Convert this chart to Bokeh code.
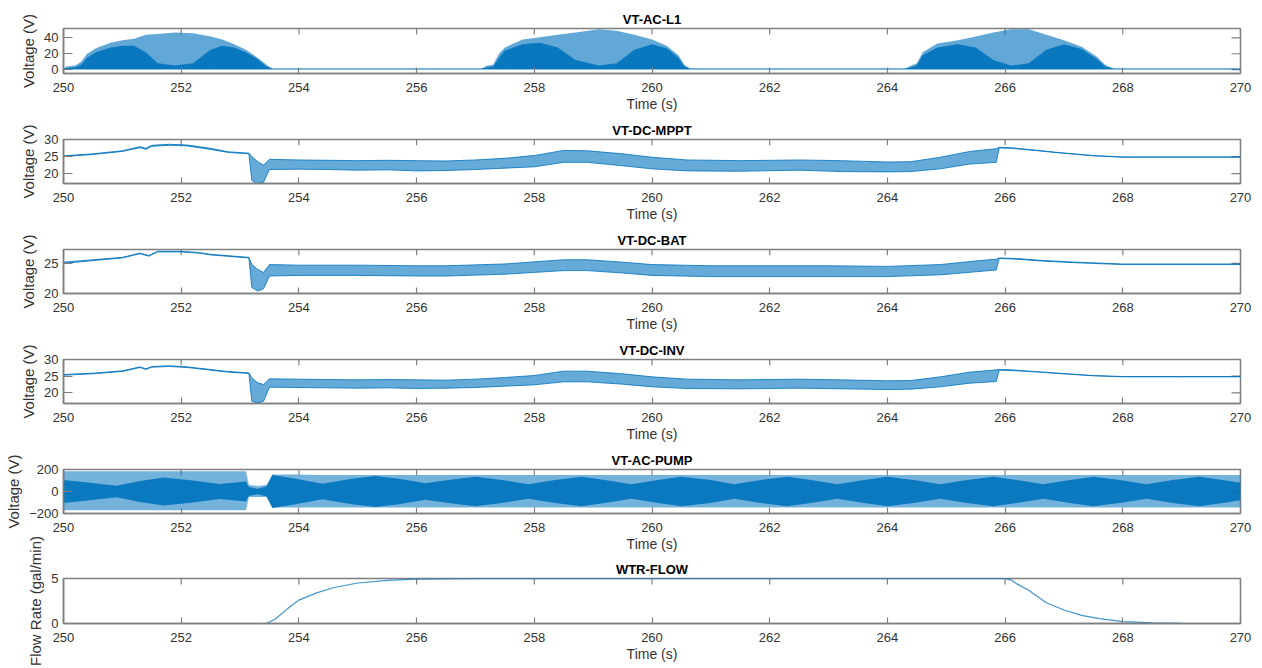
from bokeh.plotting import figure
from bokeh.models import FixedTicker, Range1d
from bokeh.layouts import column
from bokeh.embed import file_html
from bokeh.resources import INLINE

BLUE = "#0072BD"
X_TICKS = [250, 252, 254, 256, 258, 260, 262, 264, 266, 268, 270]

# ---- VT-AC-L1 : burst envelopes (peak envelope and top of dense region) ----
L1_t = [250.0, 250.05, 250.2, 250.3, 250.4, 250.55, 250.8, 251.0, 251.2, 251.4, 251.6, 251.9,
        252.2, 252.5, 252.7, 252.9, 253.1, 253.3, 253.45, 253.55,
        257.1, 257.2, 257.3, 257.4, 257.5, 257.8, 258.1, 258.4, 258.7, 259.1, 259.4, 259.7,
        260.0, 260.25, 260.45, 260.55, 260.65,
        264.3, 264.4, 264.5, 264.6, 264.85, 265.2, 265.5, 265.8, 266.1, 266.4, 266.7,
        267.0, 267.3, 267.55, 267.7, 267.85, 270.0]
L1_peak = [1, 4, 5, 10, 20, 27, 34, 37, 39, 44, 45, 47,
           46, 42, 38, 32, 25, 15, 6, 1,
           1, 5, 6, 20, 28, 38, 41, 44, 47, 51, 49, 44,
           38, 30, 18, 6, 1,
           1, 5, 8, 22, 33, 37, 42, 47, 51, 51, 44,
           37, 29, 17, 6, 1, 1]
L1_dense = [1, 2, 3, 6, 15, 22, 28, 30, 30, 22, 8, 5,
            8, 25, 30, 28, 22, 13, 4, 1,
            1, 3, 4, 15, 24, 32, 34, 28, 12, 5, 8, 25,
            32, 27, 15, 4, 1,
            1, 3, 5, 18, 28, 32, 28, 12, 5, 8, 25,
            32, 26, 14, 4, 1, 1]
L1_base = [0.6] * len(L1_t)

# ---- VT-DC-MPPT : upper / lower envelope ----
MPPT_t = [250.0, 250.5, 251.0, 251.3, 251.4, 251.5, 251.8, 252.1, 252.5, 252.8, 253.15,
          253.2, 253.3, 253.4, 253.5, 254.0, 254.5, 255.0, 255.5, 256.0, 256.5, 257.0,
          257.5, 258.0, 258.5, 258.9, 259.5, 260.0, 260.6, 261.5, 262.5, 263.2, 264.0,
          264.4, 264.9, 265.4, 265.85, 265.9, 266.1, 266.5, 266.9, 267.5, 268.0, 269.0, 270.0]
MPPT_hi = [25.2, 25.8, 26.7, 27.9, 27.4, 28.3, 28.6, 28.4, 27.4, 26.4, 26.0,
           25.0, 23.5, 22.5, 24.2, 24.0, 23.9, 23.8, 23.9, 23.8, 23.7, 24.0,
           24.5, 25.3, 26.8, 26.7, 25.8, 24.8, 24.0, 23.8, 24.0, 23.8, 23.4,
           23.5, 24.8, 26.5, 27.3, 27.7, 27.6, 26.9, 26.2, 25.3, 24.9, 24.9, 24.9]
MPPT_lo = [25.0, 25.6, 26.5, 27.6, 27.1, 28.0, 28.3, 28.1, 27.1, 26.2, 25.8,
           18.0, 17.0, 17.5, 21.2, 21.3, 21.2, 21.0, 21.1, 20.8, 20.9, 21.2,
           21.6, 22.0, 23.3, 23.3, 22.3, 21.4, 20.8, 20.7, 21.0, 20.6, 20.5,
           20.6, 21.4, 22.8, 23.3, 27.5, 27.4, 26.8, 26.1, 25.2, 24.8, 24.8, 24.8]

# ---- VT-DC-BAT ----
BAT_t = [250.0, 251.0, 251.3, 251.45, 251.6, 252.0, 252.3, 252.5, 253.15,
         253.2, 253.3, 253.4, 253.5, 254.0, 255.0, 256.0, 256.5, 257.5, 258.5, 258.9,
         259.5, 260.0, 261.0, 262.0, 263.0, 264.0, 264.9, 265.5, 265.85,
         265.9, 266.2, 266.6, 267.2, 268.0, 269.0, 270.0]
BAT_hi = [25.2, 26.0, 26.7, 26.3, 27.0, 27.0, 26.8, 26.5, 26.0,
          24.8, 24.0, 23.5, 24.8, 24.7, 24.7, 24.6, 24.6, 24.9, 25.6, 25.6,
          25.2, 24.8, 24.6, 24.6, 24.6, 24.5, 24.8, 25.4, 25.7,
          25.9, 25.8, 25.5, 25.2, 24.9, 24.9, 24.9]
BAT_lo = [25.0, 25.9, 26.6, 26.2, 26.9, 26.9, 26.7, 26.4, 25.9,
          21.0, 20.4, 20.8, 22.9, 23.0, 23.0, 22.9, 22.9, 23.2, 23.8, 23.8,
          23.4, 23.0, 22.8, 22.8, 22.8, 22.8, 23.1, 23.6, 23.9,
          25.8, 25.7, 25.4, 25.1, 24.8, 24.8, 24.8]

# ---- VT-DC-INV ----
INV_t = MPPT_t
INV_hi = [25.5, 25.9, 26.6, 27.8, 27.2, 27.9, 28.1, 27.8, 27.0, 26.4, 26.0,
          24.5, 23.0, 22.5, 24.2, 24.1, 24.0, 23.9, 24.0, 23.9, 23.8, 24.1,
          24.6, 25.2, 26.5, 26.5, 25.7, 24.8, 24.1, 23.9, 24.1, 23.9, 23.6,
          23.7, 24.8, 26.2, 26.9, 27.0, 26.9, 26.4, 25.9, 25.2, 24.9, 24.9, 24.9]
INV_lo = [25.3, 25.7, 26.4, 27.6, 27.0, 27.7, 27.9, 27.6, 26.8, 26.2, 25.8,
          17.5, 16.9, 17.5, 21.7, 21.6, 21.5, 21.4, 21.5, 21.3, 21.4, 21.6,
          22.0, 22.4, 23.3, 23.3, 22.6, 21.8, 21.3, 21.2, 21.4, 21.2, 21.0,
          21.1, 21.8, 22.9, 23.4, 26.8, 26.7, 26.3, 25.8, 25.1, 24.8, 24.8, 24.8]

# ---- VT-AC-PUMP : outer envelope and dense inner envelope ----
PUMP_t = [250.0, 250.45, 250.9, 251.3, 251.7, 252.2, 252.65, 253.1, 253.15, 253.3,
          253.45, 253.55, 253.9, 254.4, 254.9, 255.3, 255.7, 256.15, 256.6, 257.0,
          257.45, 257.9, 258.35, 258.8, 259.2, 259.65, 260.1, 260.5, 261.0, 261.4,
          261.85, 262.3, 262.7, 263.15, 263.6, 264.0, 264.45, 264.9, 265.35, 265.8,
          266.2, 266.65, 267.1, 267.5, 267.95, 268.4, 268.85, 269.3, 269.7, 270.0]
PUMP_out_hi = [185, 185, 185, 185, 185, 185, 185, 185, 60, 50,
               60, 155, 155, 150, 150, 150, 150, 150, 150, 150,
               150, 150, 150, 150, 150, 150, 150, 150, 150, 150,
               150, 150, 150, 150, 150, 150, 150, 150, 150, 150,
               150, 150, 150, 150, 150, 150, 150, 150, 150, 150]
PUMP_out_lo = [-170, -170, -170, -170, -170, -170, -170, -170, -50, -50,
               -50, -145, -145, -145, -145, -145, -145, -145, -145, -145,
               -145, -145, -145, -145, -145, -145, -145, -145, -145, -145,
               -145, -145, -145, -145, -145, -145, -145, -145, -145, -145,
               -145, -145, -145, -145, -145, -145, -145, -145, -145, -145]
PUMP_in_hi = [104, 80, 53, 95, 127, 100, 68, 90, 40, 25,
              45, 150, 120, 70, 115, 142, 115, 75, 110, 135,
              105, 65, 105, 135, 105, 65, 105, 135, 105, 65,
              105, 135, 105, 65, 105, 135, 105, 65, 105, 135,
              105, 65, 105, 135, 105, 65, 105, 135, 105, 80]
PUMP_in_lo = [-v for v in PUMP_in_hi]

# ---- WTR-FLOW ----
FLOW_t = [250.0, 253.45, 253.6, 253.8, 254.0, 254.3, 254.6, 255.0, 255.5, 256.0, 257.0,
          266.0, 266.1, 266.2, 266.4, 266.7, 267.0, 267.3, 267.6, 268.0, 268.5, 269.0, 270.0]
FLOW_v = [0.0, 0.0, 0.5, 1.6, 2.6, 3.4, 4.0, 4.5, 4.8, 4.92, 4.98,
          4.98, 4.85, 4.4, 3.7, 2.3, 1.5, 0.9, 0.55, 0.2, 0.08, 0.03, 0.0]

FONT = "Liberation Sans"
AX = "#7f7f7f"
TXT = "#333333"
FRAME_H = 45
FRAME_W = 1177


def make_fig(title, ylabel, yr, yticks, top=20, bottom=45, tick_sd=9, lab_sd=1):
    p = figure(width=1254, height=top + FRAME_H + bottom, x_range=Range1d(250, 270),
               y_range=Range1d(*yr), output_backend="svg", toolbar_location=None, tools="",
               min_border_left=63, min_border_right=14, min_border_top=top,
               min_border_bottom=bottom)
    p.title.text = title
    p.title.align = "center"
    p.title.text_font = FONT
    p.title.text_font_size = "13px"
    p.title.text_font_style = "bold"
    p.title.text_color = "#000000"
    p.title.standoff = 4
    p.grid.visible = False
    p.outline_line_color = AX
    p.outline_line_width = 1.5
    p.background_fill_color = "white"
    p.border_fill_color = "white"

    xa = p.xaxis[0]
    xa.ticker = FixedTicker(ticks=X_TICKS)
    xa.axis_label = "Time (s)"
    ya = p.yaxis[0]
    ya.ticker = FixedTicker(ticks=yticks)
    ya.axis_label = ylabel
    for a in (xa, ya):
        a.axis_line_color = AX
        a.axis_line_width = 1.5
        a.major_tick_line_color = AX
        a.major_tick_line_width = 1.2
        a.major_tick_out = 0
        a.minor_tick_line_color = None
        a.major_label_text_font = FONT
        a.major_label_text_font_size = "13px"
        a.major_label_text_color = TXT
        a.axis_label_text_font = FONT
        a.axis_label_text_font_style = "normal"
        a.axis_label_text_color = TXT
    xa.major_tick_in = 6
    ya.major_tick_in = 9
    xa.axis_label_text_font_size = "14px"
    ya.axis_label_text_font_size = "15px"
    ya.major_label_standoff = 5
    ya.axis_label_standoff = 4
    xa.major_label_standoff = tick_sd
    xa.axis_label_standoff = lab_sd

    # mirrored ticks on the top and right edges of the box
    y0, y1 = yr
    dy = (y1 - y0) * 6 / FRAME_H
    p.segment(x0=X_TICKS, y0=[y1] * len(X_TICKS), x1=X_TICKS, y1=[y1 - dy] * len(X_TICKS),
              line_color=AX, line_width=1.2)
    dx = 20 * 9 / FRAME_W
    p.segment(x0=[270] * len(yticks), y0=yticks, x1=[270 - dx] * len(yticks), y1=yticks,
              line_color=AX, line_width=1.2)
    return p


def band(p, t, lo, hi, alpha=0.6):
    p.varea(x=t, y1=lo, y2=hi, fill_color=BLUE, fill_alpha=alpha)
    p.line(t, hi, line_color=BLUE, line_width=1, line_alpha=0.8)
    p.line(t, lo, line_color=BLUE, line_width=1, line_alpha=0.8)


p1 = make_fig("VT-AC-L1", "Voltage (V)", (-5, 52), [0, 20, 40], top=28)
p1.varea(x=L1_t, y1=L1_base, y2=L1_peak, fill_color=BLUE, fill_alpha=0.62)
p1.varea(x=L1_t, y1=L1_base, y2=L1_dense, fill_color=BLUE, fill_alpha=0.9)
p1.line(L1_t, L1_base, line_color=BLUE, line_width=1, line_alpha=0.8)

p2 = make_fig("VT-DC-MPPT", "Voltage (V)", (17.1, 30), [20, 25, 30])
band(p2, MPPT_t, MPPT_lo, MPPT_hi)

p3 = make_fig("VT-DC-BAT", "Voltage (V)", (20, 27.3), [20, 25])
band(p3, BAT_t, BAT_lo, BAT_hi)

p4 = make_fig("VT-DC-INV", "Voltage (V)", (16.8, 30), [20, 25, 30])
band(p4, INV_t, INV_lo, INV_hi)

p5 = make_fig("VT-AC-PUMP", "Voltage (V)", (-200, 200), [-200, 0, 200])
p5.varea(x=PUMP_t, y1=PUMP_out_lo, y2=PUMP_out_hi, fill_color=BLUE, fill_alpha=0.55)
p5.varea(x=PUMP_t, y1=PUMP_in_lo, y2=PUMP_in_hi, fill_color=BLUE, fill_alpha=0.9)

# the last panel reaches 30 px up behind the previous one (transparent border) so
# that its long y-axis label has room, as in the reference
OVERLAP = 30
p6 = make_fig("WTR-FLOW", "Flow Rate (gal/min)", (0, 5), [0, 5], top=20 + OVERLAP, bottom=45)
p6.border_fill_alpha = 0
p6.margin = (-OVERLAP, 0, 0, 0)
p6.line(FLOW_t, FLOW_v, line_color=BLUE, line_width=1.2, line_alpha=0.75)

layout = column(p1, p2, p3, p4, p5, p6, spacing=0)
open("out.html", "w").write(file_html(layout, INLINE))
